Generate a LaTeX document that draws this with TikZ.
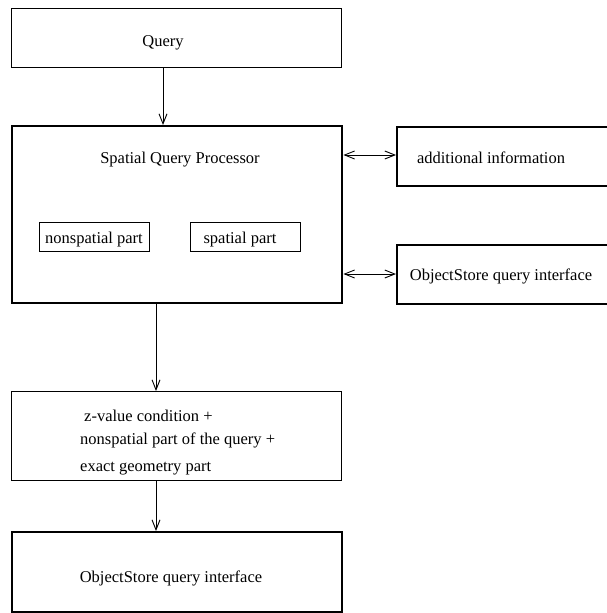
\documentclass[tikz,border=0pt]{standalone}
\usepackage{fontspec}
\setmainfont{Liberation Serif}
\usetikzlibrary{arrows.meta}
\begin{document}
\begin{tikzpicture}[x=1pt,y=-1pt,
  thinbox/.style={draw, line width=1.2pt, rectangle, inner sep=0pt, anchor=north west},
  thickbox/.style={draw, line width=2.4pt, rectangle, inner sep=0pt, anchor=north west},
  smallbox/.style={draw, line width=1.1pt, rectangle, inner sep=0pt, anchor=north west},
  lbl/.style={inner sep=0pt, anchor=base, font=\fontsize{16.5}{20}\selectfont},
  lblw/.style={inner sep=0pt, anchor=base west, font=\fontsize{16.5}{20}\selectfont},
  arr/.style={line width=0.9pt, -{Straight Barb[length=10pt,width=8pt,line width=0.9pt]}},
  darr/.style={line width=0.9pt, {Straight Barb[length=10pt,width=8pt,line width=0.9pt]}-{Straight Barb[length=10pt,width=8pt,line width=0.9pt]}}]
\useasboundingbox (0,0) rectangle (607,613);
\clip (0,0) rectangle (607,613);
% boxes
\node[thinbox, minimum width=330pt, minimum height=59pt] (query) at (11,8) {};
\node[thickbox, minimum width=330pt, minimum height=177pt] (sqp) at (11,125) {};
\node[smallbox, minimum width=110pt, minimum height=29pt] (nsp) at (39,222) {};
\node[smallbox, minimum width=110pt, minimum height=29pt] (sp) at (190,222) {};
\node[thickbox, minimum width=260pt, minimum height=59pt] (addinfo) at (396,126) {};
\node[thickbox, minimum width=260pt, minimum height=59pt] (osq1) at (396,244) {};
\node[thinbox, minimum width=330pt, minimum height=89pt] (zval) at (11,391) {};
\node[thickbox, minimum width=330pt, minimum height=80pt] (osq2) at (11,531) {};
% texts
\node[lbl] (tq) at (163,46) {Query};
\node[lbl] (tsqp) at (180,163) {Spatial Query Processor};
\node[lbl] (tnsp) at (94,243) {nonspatial part};
\node[lbl] (tsp) at (240,243) {spatial part};
\node[lbl] (tadd) at (491,163) {additional information};
\node[lbl] (tosq1) at (501,280) {ObjectStore query interface};
\node[lblw] (tz1) at (84,421) {z-value condition +};
\node[lblw] (tz2) at (80,444) {nonspatial part of the query +};
\node[lblw] (tz3) at (80,471) {exact geometry part};
\node[lbl] (tosq2) at (171,582) {ObjectStore query interface};
% connectors
\coordinate (c1) at (163,0);
\coordinate (c2) at (156,0);
\coordinate (r1) at (0,155);
\coordinate (r2) at (0,274);
\draw[arr] (query.south -| c1) -- (sqp.north -| c1);
\draw[darr] (sqp.east |- r1) -- (addinfo.west |- r1);
\draw[darr] (sqp.east |- r2) -- (osq1.west |- r2);
\draw[arr] (sqp.south -| c2) -- (zval.north -| c2);
\draw[arr] (zval.south -| c2) -- (osq2.north -| c2);
\end{tikzpicture}
\end{document}
